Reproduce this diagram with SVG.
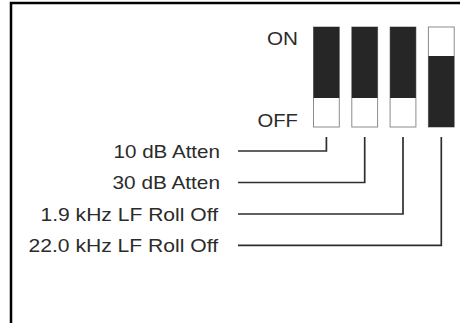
<svg xmlns="http://www.w3.org/2000/svg" width="460" height="323" viewBox="0 0 460 323">
  <style>
    .lbl { font-family: "Liberation Sans", Arial, sans-serif; font-size: 18.6px; fill: #2b2b2b; text-anchor: end; }
    .sw { fill: #ffffff; stroke: #8c8c8c; stroke-width: 1; }
    .on { fill: #262626; }
    .conn { fill: none; stroke: #2e2e2e; stroke-width: 1.7; }
  </style>
  <rect x="0" y="0" width="460" height="323" fill="#ffffff"/>
  <path id="frame" d="M11,323 V3 H460" fill="none" stroke="#000" stroke-width="2.5"/>

  <g id="state-labels">
    <text class="lbl" x="298" y="44.5" textLength="31" lengthAdjust="spacingAndGlyphs">ON</text>
    <text class="lbl" x="298" y="126.5" textLength="40.5" lengthAdjust="spacingAndGlyphs">OFF</text>
  </g>

  <g id="switch1">
    <rect class="sw" x="313.5" y="27" width="25.8" height="100"/>
    <rect class="on" x="313.5" y="27" width="25.8" height="71"/>
  </g>
  <g id="switch2">
    <rect class="sw" x="351.8" y="27" width="25.8" height="100"/>
    <rect class="on" x="351.8" y="27" width="25.8" height="71"/>
  </g>
  <g id="switch3">
    <rect class="sw" x="390.1" y="27" width="25.8" height="100"/>
    <rect class="on" x="390.1" y="27" width="25.8" height="71"/>
  </g>
  <g id="switch4">
    <rect class="sw" x="428.4" y="27" width="25.8" height="100"/>
    <rect class="on" x="428.4" y="56" width="25.8" height="71"/>
  </g>

  <g id="label1"><text class="lbl" x="220" y="157.5" textLength="106.5" lengthAdjust="spacingAndGlyphs">10 dB Atten</text></g>
  <g id="label2"><text class="lbl" x="220" y="189" textLength="107.5" lengthAdjust="spacingAndGlyphs">30 dB Atten</text></g>
  <g id="label3"><text class="lbl" x="218" y="220.5" textLength="177.5" lengthAdjust="spacingAndGlyphs">1.9 kHz LF Roll Off</text></g>
  <g id="label4"><text class="lbl" x="218" y="252" textLength="189.5" lengthAdjust="spacingAndGlyphs">22.0 kHz LF Roll Off</text></g>

  <g id="connectors">
    <path class="conn" d="M238,151 H326.4 V137"/>
    <path class="conn" d="M238,182.5 H364.7 V137"/>
    <path class="conn" d="M238,214 H403 V137"/>
    <path class="conn" d="M238,245.3 H441.3 V137"/>
  </g>
</svg>
